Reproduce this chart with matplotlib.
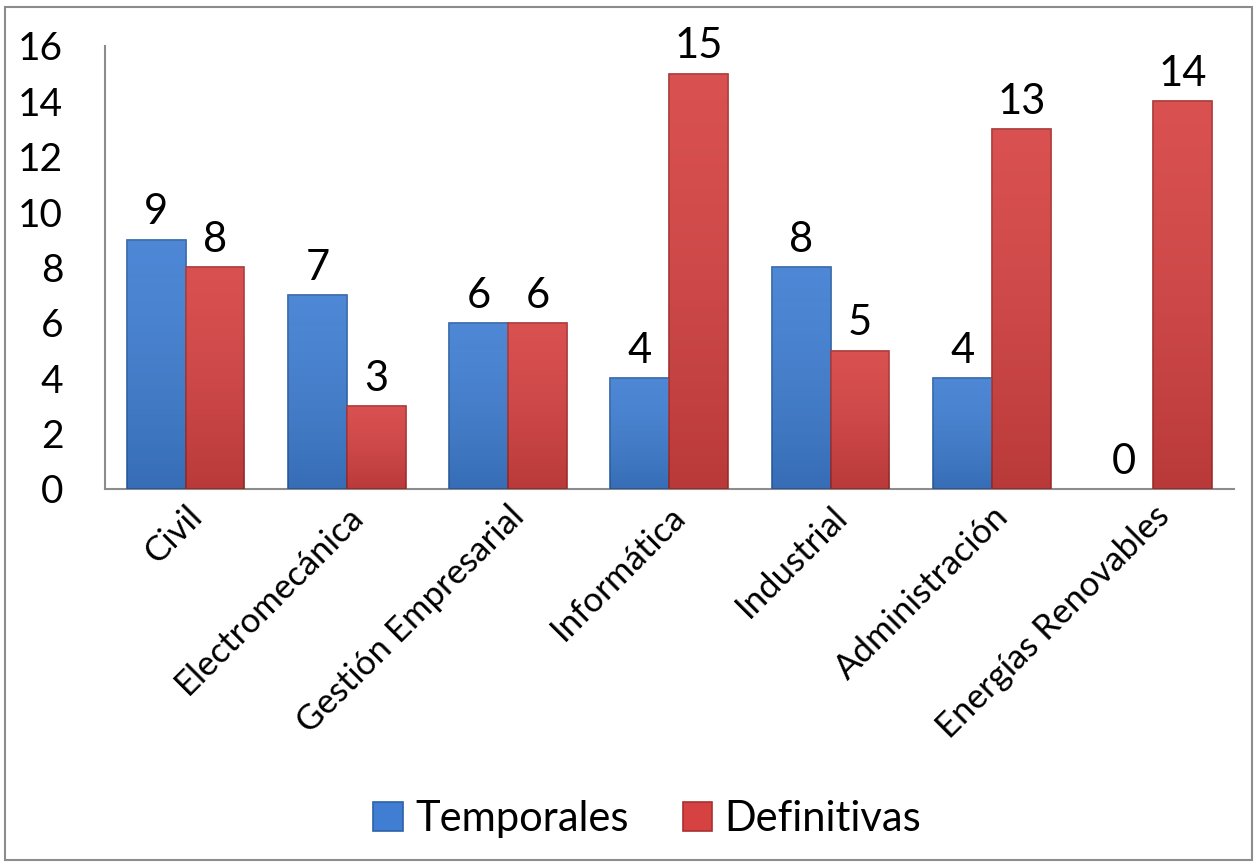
import numpy as np
import matplotlib
matplotlib.use('Agg')
import matplotlib.pyplot as plt
from matplotlib.patches import Rectangle

categorias = ['Civil', 'Electromecánica', 'Gestión Empresarial', 'Informática',
              'Industrial', 'Administración', 'Energías Renovables']
temporales = [9, 7, 6, 4, 8, 4, 0]
definitivas = [8, 3, 6, 15, 5, 13, 14]
yticks = [0, 2, 4, 6, 8, 10, 12, 14, 16]

plt.rcParams['font.family'] = ['Lato', 'DejaVu Sans']

fig = plt.figure(figsize=(12.57, 8.67), dpi=100)
ax = fig.add_axes([0.0835, 0.436, 0.898, 0.511])

x = np.arange(len(categorias))
w = 0.365
azul = '#3F7ED2'
rojo = '#D64242'
b1 = ax.bar(x - w/2, temporales, w, color=azul, edgecolor='#2E62A8', linewidth=1.2,
            label='Temporales', zorder=3)
b2 = ax.bar(x + w/2, definitivas, w, color=rojo, edgecolor='#A83030', linewidth=1.2,
            label='Definitivas', zorder=3)
for r in list(b1) + list(b2):
    if r.get_height() == 0:
        r.set_visible(False)

# light shading, imitation of the bevel look
grad = np.linspace(0, 1, 50).reshape(-1, 1)
cm = matplotlib.colors.LinearSegmentedColormap.from_list('g', ['#00000022', '#ffffff14'])
for bars in (b1, b2):
    for r in bars:
        if r.get_height() == 0:
            continue
        im = ax.imshow(grad, extent=(r.get_x(), r.get_x() + r.get_width(), 0, r.get_height()),
                       cmap=cm, aspect='auto', zorder=4, origin='lower')
        im.set_clip_path(r)

for bars in (b1, b2):
    for r in bars:
        ax.annotate(f'{int(r.get_height())}', (r.get_x() + r.get_width()/2, r.get_height()),
                    xytext=(0, 6), textcoords='offset points', ha='center', va='bottom',
                    fontsize=30)

ax.set_xlim(-0.5, len(categorias) - 0.5)
ax.set_ylim(0, 16)
ax.set_yticks(yticks)
ax.tick_params(axis='y', length=0, pad=30, labelsize=28)
ax.set_xticks(x)
ax.set_xticklabels(categorias, rotation=45, ha='right', rotation_mode='anchor', fontsize=25)
ax.tick_params(axis='x', length=0, pad=8)
for s in ('top', 'right'):
    ax.spines[s].set_visible(False)
for s in ('left', 'bottom'):
    ax.spines[s].set_color('#8C8C8C')
    ax.spines[s].set_linewidth(1.5)

fig.legend(handles=[b1, b2], labels=['Temporales', 'Definitivas'], loc='center',
           bbox_to_anchor=(0.515, 0.055), ncol=2, frameon=False, fontsize=30,
           handlelength=0.7, handleheight=0.7, columnspacing=1.3, handletextpad=0.3)

fig.patches.append(Rectangle((0.004, 0.008), 0.992, 0.984, transform=fig.transFigure,
                             fill=False, edgecolor='#8C8C8C', linewidth=1.5))

fig.savefig('out.png', dpi=100)
